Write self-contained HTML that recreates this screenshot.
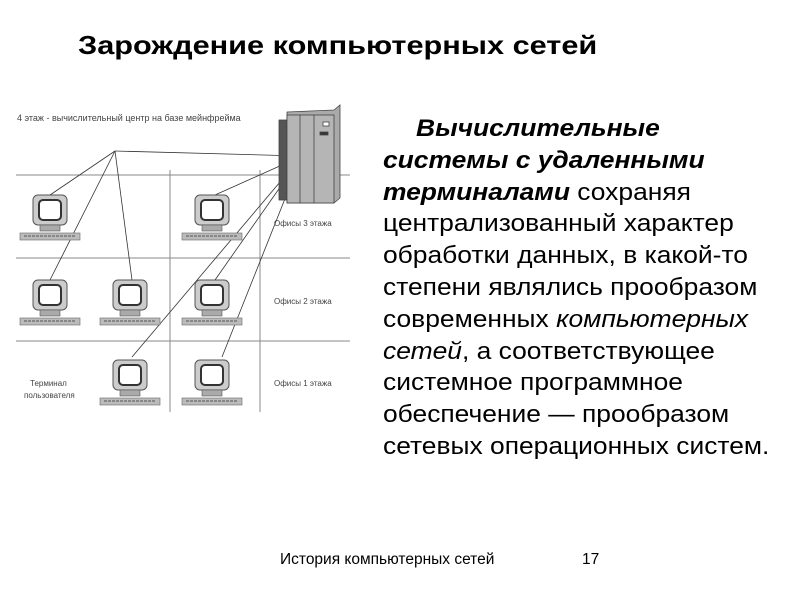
<!DOCTYPE html>
<html><head><meta charset="utf-8"><style>
body{margin:0;width:800px;height:600px;background:#fff;position:relative;overflow:hidden;font-family:"Liberation Sans",sans-serif;}
.t{position:absolute;white-space:nowrap;transform-origin:0 0}
#body{position:absolute;left:383px;top:113px;font-size:24px;line-height:31.8px;color:#000;white-space:nowrap;transform:scaleX(1.1);transform-origin:0 0}
</style></head><body>
<div class="t" style="left:78px;top:30px;font-size:26px;font-weight:bold;transform:scaleX(1.18)">Зарождение компьютерных сетей</div>
<div id="body"><span style="padding-left:30px"></span><b><i>Вычислительные<br>системы с удаленными<br>терминалами</i></b> сохраняя<br>централизованный характер<br>обработки данных, в какой-то<br>степени являлись прообразом<br>современных <i>компьютерных<br>сетей</i>, а соответствующее<br>системное программное<br>обеспечение — прообразом<br>сетевых операционных систем.</div>
<div class="t" style="left:280px;top:551px;font-size:15.5px">История компьютерных сетей</div>
<div class="t" style="left:582px;top:551px;font-size:15.5px">17</div>
<svg width="800" height="600" style="position:absolute;left:0;top:0" font-family="Liberation Sans" font-size="8" fill="#444">
<defs>
<g id="pc">
<rect x="-17" y="-15" width="34" height="30" rx="5" fill="#ccc" stroke="#555"/>
<rect x="-11" y="-10" width="22" height="20" rx="4" fill="#fff" stroke="#333" stroke-width="2"/>
<rect x="-10" y="15" width="20" height="6" fill="#aaa" stroke="#555" stroke-width=".6"/>
<rect x="-30" y="23" width="60" height="7" fill="#bbb" stroke="#666" stroke-width=".6"/>
<line x1="-26" y1="26" x2="26" y2="26" stroke="#555" stroke-dasharray="3 1"/>
</g>
</defs>
<text x="17" y="121" font-size="9">4 этаж - вычислительный центр на базе мейнфрейма</text>
<g stroke="#888" stroke-width="1">
<line x1="16" y1="175" x2="350" y2="175"/><line x1="16" y1="258" x2="350" y2="258"/><line x1="16" y1="341" x2="350" y2="341"/>
<line x1="170" y1="170" x2="170" y2="412"/><line x1="260" y1="170" x2="260" y2="412"/>
</g>
<g fill="#444">
<text x="274" y="226">Офисы 3 этажа</text><text x="274" y="304">Офисы 2 этажа</text><text x="274" y="386">Офисы 1 этажа</text>
<text x="30" y="386">Терминал</text><text x="24" y="398">пользователя</text>
</g>
<g stroke="#333" stroke-width=".8">
<line x1="115" y1="151" x2="302" y2="156"/>
<line x1="115" y1="151" x2="50" y2="195"/><line x1="115" y1="151" x2="50" y2="280"/><line x1="115" y1="151" x2="132" y2="280"/>
<line x1="302" y1="156" x2="215" y2="195"/><line x1="302" y1="156" x2="215" y2="280"/><line x1="302" y1="156" x2="132" y2="357"/><line x1="302" y1="156" x2="222" y2="357"/>
</g>
<use href="#pc" x="50" y="210"/><use href="#pc" x="212" y="210"/>
<use href="#pc" x="50" y="295"/><use href="#pc" x="130" y="295"/><use href="#pc" x="212" y="295"/>
<use href="#pc" x="130" y="375"/><use href="#pc" x="212" y="375"/>
<g stroke="#444" stroke-width=".8">
<rect x="279" y="120" width="8" height="80" fill="#555"/>
<polygon points="287,112 334,110 340,105 340,198 334,203 287,203" fill="#aaa"/>
<rect x="287" y="115" width="47" height="88" fill="#b5b5b5"/>
<line x1="300" y1="115" x2="300" y2="203"/><line x1="314" y1="115" x2="314" y2="203"/>
<rect x="323" y="122" width="6" height="4" fill="#fff"/><rect x="320" y="132" width="8" height="3" fill="#333"/>
</g>
</svg>
</body></html>
